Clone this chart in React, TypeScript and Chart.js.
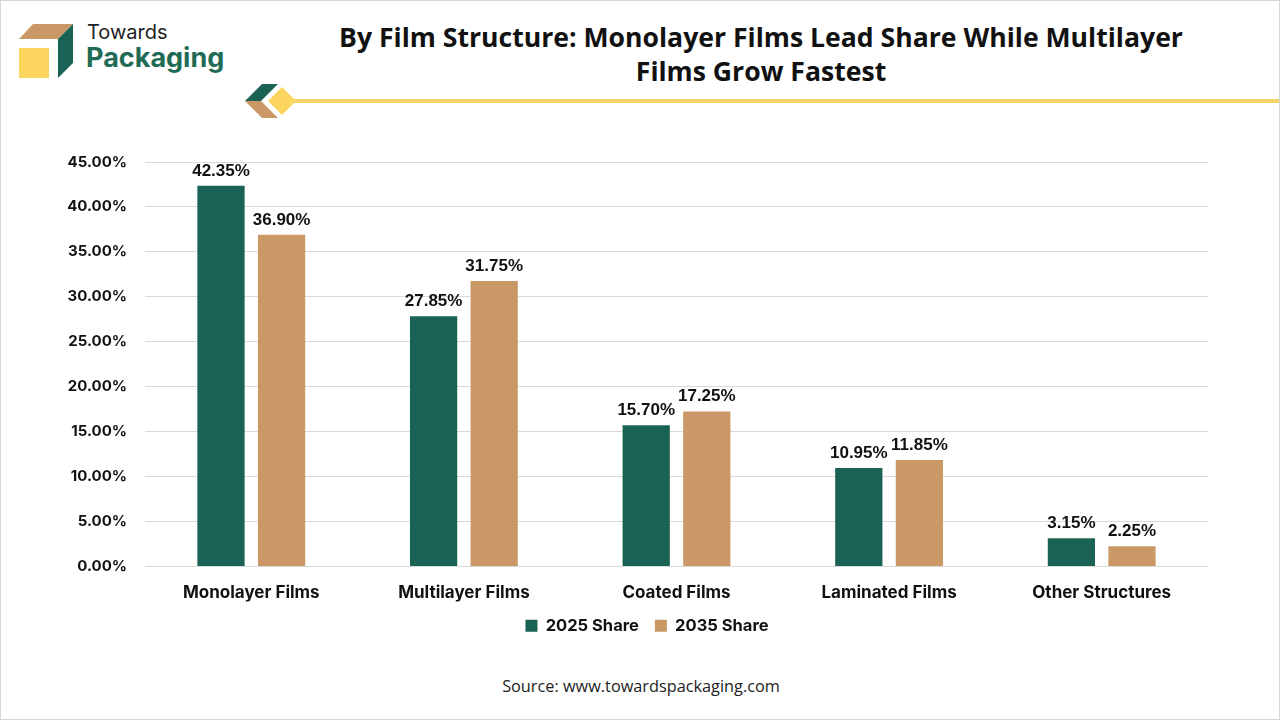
import React, { useEffect, useRef } from "react";
import { Chart, registerables } from "chart.js";

Chart.register(...registerables);

const categories = ["Monolayer Films", "Multilayer Films", "Coated Films", "Laminated Films", "Other Structures"];
const share2025 = [42.35, 27.85, 15.7, 10.95, 3.15];
const share2035 = [36.9, 31.75, 17.25, 11.85, 2.25];
const seriesNames = ["2025 Share", "2035 Share"];

const GREEN = "#1a6354";
const TAN = "#c99866";

const valueLabels = {
  id: "valueLabels",
  afterDatasetsDraw(chart: any) {
    const ctx = chart.ctx;
    ctx.save();
    ctx.font = 'bold 17px "Liberation Sans", Arial, sans-serif';
    ctx.fillStyle = "#111111";
    ctx.textAlign = "center";
    ctx.textBaseline = "alphabetic";
    chart.data.datasets.forEach((ds: any, i: number) => {
      const meta = chart.getDatasetMeta(i);
      meta.data.forEach((bar: any, j: number) => {
        ctx.fillText(Number(ds.data[j]).toFixed(2) + "%", bar.x, bar.y - 10);
      });
    });
    ctx.restore();
  },
};

export default function App() {
  const ref = useRef<HTMLCanvasElement | null>(null);

  useEffect(() => {
    if (!ref.current) return;
    const chart = new Chart(ref.current, {
      type: "bar",
      data: {
        labels: categories,
        datasets: [
          { label: seriesNames[0], data: share2025, backgroundColor: GREEN, categoryPercentage: 0.57, barPercentage: 0.78 },
          { label: seriesNames[1], data: share2035, backgroundColor: TAN, categoryPercentage: 0.57, barPercentage: 0.78 },
        ],
      },
      options: {
        animation: false,
        responsive: true,
        maintainAspectRatio: false,
        layout: { padding: { left: 14, right: 0, top: 17, bottom: 0 } },
        plugins: {
          legend: {
            position: "bottom",
            labels: {
              boxWidth: 12,
              boxHeight: 12,
              padding: 16,
              color: "#111111",
              font: { family: "Inter, sans-serif", weight: "bold", size: 16.5 },
            },
          },
          tooltip: { enabled: false },
        },
        scales: {
          x: {
            grid: { display: false, drawTicks: false },
            border: { display: false },
            ticks: {
              padding: 16,
              color: "#111111",
              font: { family: "Inter, sans-serif", weight: "bold", size: 17 },
            },
            afterFit(scale: any) {
              scale.height = 35;
            },
          },
          y: {
            min: 0,
            max: 45,
            grid: { color: "#d9d9d9", lineWidth: 1, drawTicks: false },
            border: { display: false },
            ticks: {
              stepSize: 5,
              padding: 18,
              color: "#111111",
              font: { family: "Inter, sans-serif", weight: "bold", size: 15 },
              callback: (v: any) => Number(v).toFixed(2) + "%",
            },
            afterFit(scale: any) {
              scale.width = 131;
            },
          },
          yRight: {
            position: "right",
            min: 0,
            max: 45,
            grid: { display: false, drawTicks: false },
            border: { display: false },
            ticks: { display: false },
            afterFit(scale: any) {
              scale.width = 72;
            },
          },
        },
      },
      plugins: [valueLabels],
    });
    return () => chart.destroy();
  }, []);

  return (
    <div
      style={{
        position: "absolute",
        left: 0,
        top: 0,
        width: 1280,
        height: 720,
        background: "#ffffff",
        boxSizing: "border-box",
        border: "1px solid #d6d6d6",
        overflow: "hidden",
      }}
    >
      <svg width={1280} height={130} style={{ position: "absolute", left: -1, top: -1 }}>
        <polygon points="33,24 73,24 58,39 19,39" fill="#c99866" />
        <polygon points="73,24 73,63 58,78 58,39" fill="#1a6354" />
        <rect x={19} y={48} width={30} height={30} fill="#fcd55f" />
        <polygon points="245,101 262,84 278,84 261,101" fill="#1a6354" />
        <polygon points="245,101 261,101 278,118 262,118" fill="#c99866" />
        <rect x={290} y={99} width={990} height={4} fill="#f4d46a" />
        <polygon points="282,87 296,101 282,115 268,101" fill="#fcd55f" />
      </svg>
      <div
        style={{
          position: "absolute",
          left: 86,
          top: 19,
          fontFamily: "Inter, sans-serif",
          fontSize: 20,
          color: "#222222",
          lineHeight: "24px",
        }}
      >
        Towards
      </div>
      <div
        style={{
          position: "absolute",
          left: 85,
          top: 40,
          fontFamily: "Inter, sans-serif",
          fontWeight: 700,
          fontSize: 27,
          color: "#1f6b55",
          lineHeight: "34px",
        }}
      >
        Packaging
      </div>
      <div
        style={{
          position: "absolute",
          left: 261,
          width: 998,
          top: 19,
          textAlign: "center",
          fontFamily: '"Open Sans", sans-serif',
          fontWeight: 700,
          fontSize: 26.6,
          lineHeight: "34px",
          color: "#111111",
        }}
      >
        By Film Structure: Monolayer Films Lead Share While Multilayer
        <br />
        Films Grow Fastest
      </div>
      <div style={{ position: "absolute", left: -1, top: 134, width: 1280, height: 509 }}>
        <canvas ref={ref} />
      </div>
      <div
        style={{
          position: "absolute",
          left: 0,
          width: 1280,
          top: 674,
          textAlign: "center",
          fontFamily: '"Open Sans", sans-serif',
          fontSize: 16.3,
          color: "#222222",
        }}
      >
        Source: www.towardspackaging.com
      </div>
    </div>
  );
}
